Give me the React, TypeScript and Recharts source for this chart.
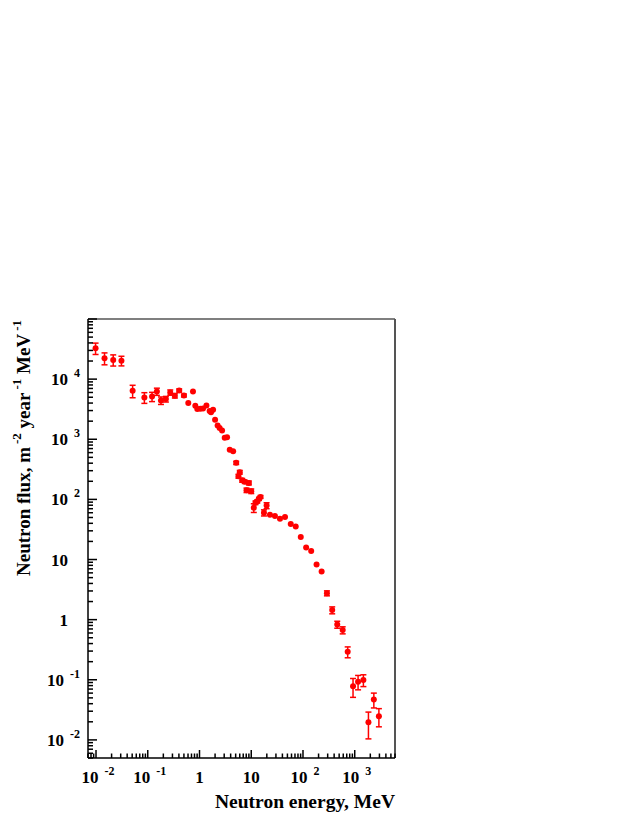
import { ScatterChart, Scatter, XAxis, YAxis, ErrorBar, ReferenceLine } from "recharts";

// neutron energy, MeV
const energy = [
  0.0098, 0.0146, 0.0215, 0.031, 0.051, 0.086, 0.121, 0.15, 0.18, 0.224,
  0.272, 0.334, 0.405, 0.5, 0.607, 0.748, 0.83, 0.906, 1.04, 1.17,
  1.36, 1.57, 1.67, 1.83, 2.0, 2.24, 2.45, 2.73, 3.07, 3.41,
  3.84, 4.47, 5.12, 5.66, 6.0, 6.68, 7.5, 8.1, 9.0, 10.0,
  11.2, 12.1, 13.1, 14.1, 15.1, 17.6, 19.8, 23, 28.7, 35.9,
  44.9, 58, 72.4, 90.6, 115, 144, 183, 229, 290, 367,
  459, 585, 731, 927, 1160, 1470, 1840, 2340, 2930,
];

// flux, m^-2 year^-1 MeV^-1
const flux = [
  32700, 22300, 20900, 20300, 6400, 4950, 5130, 6220, 4420, 4660,
  6000, 5300, 6470, 5350, 4000, 6220, 3610, 3180, 3220, 3240,
  3650, 2950, 2800, 3100, 2110, 1700, 1540, 1405, 1060, 1075,
  670, 630, 405, 243, 283, 208, 196, 142, 188, 137,
  72.6, 88, 93, 102, 110, 60, 79, 55.6, 52.7, 47.8,
  50.7, 38.8, 35.5, 23.6, 15.9, 13.8, 8.3, 6.3, 2.75, 1.44,
  0.83, 0.67, 0.292, 0.078, 0.093, 0.099, 0.0197, 0.047, 0.0248,
];

const fluxErr = [
  7000, 5000, 4400, 3700, 1500, 1000, 900, 850, 630, 500,
  600, 450, 400, 300, 0, 0, 0, 0, 0, 0,
  0, 0, 0, 0, 0, 0, 0, 0, 0, 0,
  0, 0, 25, 18, 20, 15, 12, 12, 14, 12,
  12, 6, 6, 6, 6, 7, 9, 0, 0, 0,
  0, 0, 0, 0, 0, 0, 0, 0, 0.26, 0.19,
  0.11, 0.09, 0.06, 0.027, 0.025, 0.022, 0.0093, 0.013, 0.0083,
];

const xDomain = [0.007, 6000];
const yDomain = [0.005, 100000];

const data = energy.map((e, i) => ({ e, f: flux[i], err: fluxErr[i] }));

function logTicks(min: number, max: number) {
  const out: number[] = [];
  const lo = Math.floor(Math.log10(min));
  const hi = Math.ceil(Math.log10(max));
  for (let d = lo; d <= hi; d++) {
    for (let k = 1; k <= 9; k++) {
      const v = k * Math.pow(10, d);
      if (v >= min * 0.9999 && v <= max * 1.0001) out.push(v);
    }
  }
  return out;
}

const xTicks = logTicks(xDomain[0], xDomain[1]);
const yTicks = logTicks(yDomain[0], yDomain[1]);

const FONT = "'Liberation Serif', 'Times New Roman', serif";

function expOf(v: number) {
  const l = Math.log10(v);
  const r = Math.round(l);
  return Math.abs(l - r) < 1e-6 ? r : null;
}

function TickLabel({ e, x, y, anchor }: { e: number; x: number; y: number; anchor: "end" | "middle" }) {
  if (e === 0 || e === 1) {
    return (
      <text x={x} y={y} textAnchor={anchor} fontFamily={FONT} fontWeight="bold" fontSize={17} fill="#000">
        {e === 0 ? "1" : "10"}
      </text>
    );
  }
  return (
    <text x={x} y={y} textAnchor={anchor} fontFamily={FONT} fontWeight="bold" fontSize={17} fill="#000">
      <tspan>10</tspan>
      <tspan dx={6} dy={-8} fontSize={12}>
        {String(e)}
      </tspan>
    </text>
  );
}

function XTick(props: any) {
  const { x, y, payload } = props;
  const e = expOf(payload.value);
  const len = e !== null ? 8 : 4.5;
  const plain = e === 0 || e === 1;
  return (
    <g>
      <line x1={x} x2={x} y1={y} y2={y - len} stroke="#000" strokeWidth={1.5} />
      {e !== null && <TickLabel e={e} x={plain ? x : x + 2} y={y + 25} anchor="middle" />}
    </g>
  );
}

function YTick(props: any) {
  const { x, y, payload } = props;
  const e = expOf(payload.value);
  const len = e !== null ? 9 : 5;
  const plain = e === 0 || e === 1;
  const showLabel = e !== null && e < 5;
  return (
    <g>
      <line x1={x} x2={x + len} y1={y} y2={y} stroke="#000" strokeWidth={1.5} />
      {showLabel && <TickLabel e={e as number} x={plain ? x - 20 : x - 8} y={y + 6} anchor="end" />}
    </g>
  );
}

function Dot(props: any) {
  return <circle cx={props.cx} cy={props.cy} r={3} fill="#ff0000" />;
}

export default function App() {
  return (
    <ScatterChart width={616} height={809} margin={{ top: 311, right: 229, bottom: 0, left: 0 }}>
      <XAxis
        type="number"
        dataKey="e"
        scale="log"
        domain={xDomain}
        allowDataOverflow
        ticks={xTicks}
        interval={0}
        tickSize={0}
        tickMargin={0}
        tickLine={false}
        axisLine={{ stroke: "#000", strokeWidth: 1.5 }}
        tick={<XTick />}
        height={59}
        label={{
          content: () => (
            <text x={387} y={800} textAnchor="end" fontFamily={FONT} fontWeight="bold" fontSize={19.5} fill="#000">
              Neutron energy, MeV
            </text>
          ),
        }}
      />
      <YAxis
        type="number"
        dataKey="f"
        scale="log"
        domain={yDomain}
        allowDataOverflow
        ticks={yTicks}
        interval={0}
        tickSize={0}
        tickMargin={0}
        tickLine={false}
        axisLine={{ stroke: "#000", strokeWidth: 1.5 }}
        tick={<YTick />}
        width={80}
        label={{
          content: () => (
            <text
              transform="translate(22,312) rotate(-90)"
              x={0}
              y={0}
              textAnchor="end"
              fontFamily={FONT}
              fontWeight="bold"
              fontSize={19}
              fill="#000"
            >
              <tspan>Neutron flux, m</tspan>
              <tspan dx={3} dy={-9} fontSize={13}>-2</tspan>
              <tspan dy={9}> year</tspan>
              <tspan dx={3} dy={-9} fontSize={13}>-1</tspan>
              <tspan dy={9}> MeV</tspan>
              <tspan dx={3} dy={-9} fontSize={13}>-1</tspan>
            </text>
          ),
        }}
      />
      <ReferenceLine y={yDomain[1]} stroke="#555" strokeWidth={1.5} />
      <ReferenceLine x={xDomain[1]} stroke="#555" strokeWidth={2} />
      <Scatter data={data} shape={<Dot />} isAnimationActive={false}>
        <ErrorBar dataKey="err" direction="y" width={3} stroke="#ff0000" strokeWidth={1.5} />
      </Scatter>
    </ScatterChart>
  );
}
